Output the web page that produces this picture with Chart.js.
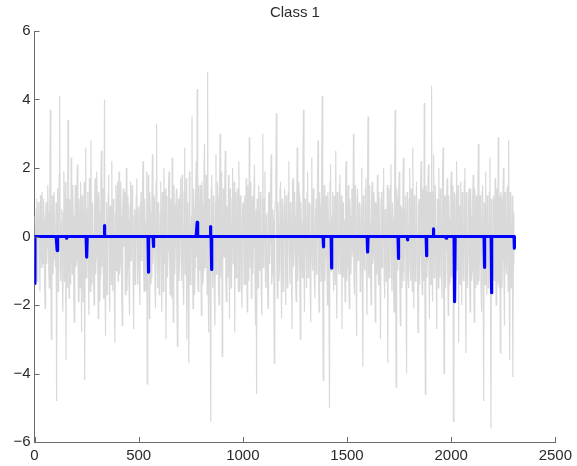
<!DOCTYPE html>
<html>
<head>
<meta charset="utf-8">
<script src="https://cdn.jsdelivr.net/npm/chart.js@4/dist/chart.umd.min.js"></script>
<style>
  html, body { margin: 0; padding: 0; background: #ffffff; }
  #wrap { width: 577px; height: 466px; }
</style>
</head>
<body>
<div id="wrap"><canvas id="c" width="577" height="466"></canvas></div>
<script>
// ---- data ----
const chartTitle = "Class 1";
const xTicks = [0, 500, 1000, 1500, 2000, 2500];
const yTicks = [-6, -4, -2, 0, 2, 4, 6];
const sampleCount = 2304;

// grey signal: estimated values every 5 samples (greyMain, from sample 1)
// and the estimated values half-way between them (greyMid)
const greyStep = 2.5;
const greyMain = [
  0.6, -1.2, 1.1, -0.4, 0.9, -1.6, 0.3, 1.3, -0.8, 0.5, -2.1, 1.0, -0.3, 0.7, -1.5, 3.7, -3.0, 1.2, -0.6, 0.4,
  -0.9, -4.8, 1.4, -0.2, 4.1, -1.3, 0.8, -2.2, 1.9, -0.5, -3.6, 1.1, 3.4, -1.8, 0.2, 2.3, -1.1, 0.6, -2.5, 1.5,
  -0.7, 2.1, -1.9, 0.4, 1.6, -2.8, 0.9, -0.3, -4.2, 2.6, -1.0, 1.3, -2.3, 0.5, 2.8, -1.4, 0.1, -2.0, 1.7, -0.6,
  1.2, -2.4, 0.7, -1.1, 2.5, -0.2, -1.8, 4.0, -2.9, 1.0, -0.5, 1.8, -2.2, 0.3, 2.2, -1.6, 0.8, -3.1, 1.5, -0.4,
  -1.3, 1.9, -0.8, 0.6, -2.6, 1.4, 0.2, -1.7, 2.0, -0.9, 0.5, -2.3, 1.6, -0.1, 1.1, -2.7, 0.8, -0.6, 1.7, -1.4,
  0.9, -2.0, 1.3, -0.5, 2.2, -1.6, 0.4, -0.9, -4.3, 1.8, -2.4, 0.7, -1.2, 2.4, -0.3, 1.0, -2.1, 3.3, -1.5, 0.6,
  -1.1, 1.6, -2.2, 0.3, 2.0, -0.8, -3.0, 1.2, -0.4, 1.9, -1.7, 0.5, 2.3, -2.5, 0.9, -0.2, 1.4, -3.2, 1.1, -0.7,
  1.7, -1.3, 0.6, -2.0, 2.6, -0.5, -3.0, 1.0, -3.7, 0.4, -1.2, 3.5, -2.1, 0.8, -0.9, 2.2, 4.3, -1.6, 0.2, 1.5,
  -2.3, 0.9, -1.0, 2.7, -0.4, 1.3, 4.8, -2.8, 0.5, -5.4, 1.8, -1.5, 0.7, -2.6, 2.4, -0.8, 1.1, -2.0, 3.0, -1.2,
  -3.5, 1.4, -0.6, 2.5, -1.9, 0.3, 1.8, -2.4, 0.8, -1.1, 2.0, -0.2, -2.8, 1.3, -0.7, 0.5, 2.2, -1.6, 0.9, -2.1,
  1.0, -1.4, 0.4, 1.7, -2.2, 0.6, 2.9, -0.9, -1.8, 1.2, -0.3, 2.1, -2.6, -4.6, 0.8, 1.5, -1.0, 0.2, -2.3, 3.0,
  -0.6, 1.9, -1.5, 0.7, -2.1, 1.3, -0.2, 2.4, -1.1, 0.5, -3.7, 1.0, 3.6, -1.8, 0.3, -0.9, 1.6, -2.4, 0.8, -0.4,
  1.4, -2.0, 0.5, -0.8, 2.2, -1.4, 0.9, -2.7, 1.7, -0.3, 0.6, -1.9, 2.6, -0.5, 1.2, -3.0, 0.4, -1.2, 3.7, -2.2,
  0.8, -1.5, 1.9, -0.7, 0.3, -2.5, 2.3, -1.0, 0.6, -1.8, 1.1, -0.4, 2.8, -2.2, 0.9, -1.3, 4.1, -4.2, 1.5, -0.6,
  1.2, -2.0, 0.4, -5.0, 2.1, -0.8, 1.3, -1.6, 0.7, 2.5, -2.4, 0.2, -1.1, 1.8, -0.3, -2.7, 1.0, 0.5, -1.9, 2.2,
  -0.9, 1.5, -2.1, 0.6, -0.4, 1.1, 3.0, -1.7, 0.8, -2.9, 1.4, -0.2, 0.9, -1.5, 2.0, -3.8, 0.5, -1.0, 1.7, -2.3,
  3.5, -1.2, 0.4, -2.0, 1.6, -0.6, 1.0, -2.5, 0.7, 1.8, -1.4, 0.2, -3.0, 1.3, -0.5, 2.0, -1.8, 0.6, -0.9, -3.7,
  1.4, -0.8, 2.1, -1.6, 0.5, -2.2, 3.7, -4.4, 1.1, -0.3, 1.9, -2.6, 0.8, -1.0, 2.3, -0.4, 1.2, -4.0, 0.6, -1.5,
  2.0, -1.3, 0.7, 2.6, -2.1, 0.4, -0.9, 1.6, -2.8, 1.1, -0.5, 2.2, -1.7, 0.8, 3.9, -4.6, 1.3, -0.7, 2.1, -2.4,
  0.9, 4.4, -1.9, 2.4, -0.6, 1.5, -2.7, 0.3, 2.0, -1.2, 0.7, -1.8, 2.6, -4.0, 1.2, -0.4, 1.7, -2.3, 0.5, -1.1,
  1.9, -0.7, -5.4, 1.3, -1.6, 2.2, -0.2, -3.1, 0.9, 1.6, -2.0, 0.4, -1.3, 2.0, -3.4, 0.8, -0.5, 1.4, -2.2, 0.6,
  -1.0, 1.8, -2.5, 0.5, 1.2, -1.4, 2.7, -0.6, 0.9, -2.2, 1.5, -4.8, 0.3, 1.9, -1.7, 0.7, -0.8, 2.3, -5.6, 1.0,
  -1.2, 0.6, 1.7, -2.0, 0.4, 2.9, -1.5, -3.4, 1.1, -0.7, 2.0, -2.6, 0.8, -1.1, 1.5, 2.8, -3.6, 0.5, -0.9, -4.1,
  0.7
];
const greyMid = [
  -0.5, 0.8, -1.3, 1.0, -0.2, 1.2, -0.9, -0.4, 1.1, -1.4, 0.6, -0.8, 1.5, -1.0, 0.9, -0.7, 0.3, -1.1, 1.3, -0.6,
  1.0, 0.5, -1.6, 1.8, -0.9, 0.4, -1.2, 0.7, -1.3, 1.6, 0.2, -1.5, -0.4, 1.1, -1.4, -0.3, 1.5, -1.7, 0.3, -0.9,
  1.4, -0.6, 1.1, -1.5, 0.3, 1.2, -1.9, 1.6, 0.5, -1.2, 0.8, -1.0, 1.7, -1.6, -0.5, 1.0, -1.3, 0.9, -1.1, 1.9,
  -0.8, 1.3, -1.9, 1.5, -0.9, 1.4, 0.6, -1.2, 0.4, -1.7, 1.2, -0.5, 0.9, -1.4, -0.6, 1.1, -1.8, 0.7, -1.0, 1.6,
  0.5, -1.1, 1.6, -1.5, 0.8, -0.3, 1.3, 0.4, -1.6, 1.2, -1.3, 0.9, -0.7, 1.5, -1.2, 0.6, -1.4, 1.2, -0.5, 0.8,
  -1.3, 1.0, -0.7, 1.5, -0.9, 1.1, -1.6, 1.9, -0.6, 0.7, 1.3, -1.4, 0.9, -0.8, 1.2, -1.5, 1.6, -0.4, 1.0, -1.7,
  0.7, -1.0, 1.3, -1.6, 0.5, 1.4, -0.8, -1.2, 1.6, -0.5, 1.1, -1.8, -0.6, 1.5, -1.1, 0.9, -1.7, 0.4, -1.3, 1.2,
  -0.4, 1.8, -1.5, 1.3, -1.1, 1.7, 0.3, -1.6, 1.9, -1.4, 0.6, -0.9, 1.4, -1.7, 1.2, -0.6, -1.3, 1.5, -1.0, -0.8,
  1.6, -1.4, 1.7, -0.9, 1.8, -1.7, -1.0, 1.1, -1.9, 1.4, -0.6, 1.2, -1.8, 1.0, -1.1, 1.6, -1.5, 1.3, -0.7, 1.9,
  -1.0, -0.5, 1.6, -1.3, 0.9, -1.2, 0.5, 1.4, -1.5, 1.1, -0.8, 1.6, -0.3, -1.2, 1.4, -1.6, 0.4, 1.2, -1.4, 0.7,
  0.3, 1.2, -1.4, -0.6, 1.5, -1.3, -0.4, 1.6, 0.5, -1.1, 1.3, -1.2, 0.8, 1.1, -1.5, -0.7, 1.3, -1.6, 1.1, -0.9,
  1.1, -1.3, 0.6, -1.5, 1.2, -0.8, 1.5, -1.4, 0.8, -1.2, 0.7, 1.7, -1.1, 1.0, -1.3, 1.4, -0.9, 1.1, -1.6, 0.9,
  -0.6, 1.2, -1.5, 1.3, -0.4, 1.0, -1.1, 1.5, -0.9, 1.3, -1.4, 0.7, -1.3, 1.6, -1.4, 1.0, -0.8, 1.8, -0.6, 1.1,
  -0.3, 1.3, -1.2, 1.0, -1.5, 0.9, -0.7, 1.4, -1.2, 0.8, -1.1, 1.6, -0.8, 1.3, -0.5, 1.6, -1.4, 0.9, -1.3, 1.0,
  -0.7, 1.3, -1.8, 1.6, -1.0, 0.6, -1.1, 1.2, -1.4, -0.6, 1.3, -0.9, 1.5, -1.1, 1.2, 0.8, -1.2, -0.8, 1.4, -1.3,
  0.6, -1.2, 1.1, -1.1, 1.4, -0.6, -1.3, 1.5, -1.0, 1.2, -0.7, 1.0, -1.6, 0.9, -1.3, 1.2, -0.9, 1.4, -1.0, 1.3,
  -1.1, 1.5, -1.3, 1.2, -0.8, 1.3, -1.4, 1.0, -1.1, -0.5, 1.3, -1.5, 1.1, -0.9, 1.4, -1.2, 0.8, -1.3, 1.5, 1.0,
  -1.2, 1.5, -0.9, 1.0, -1.4, 1.2, -1.5, 1.4, -1.0, 1.3, -1.1, 0.9, -1.5, 1.6, -1.3, 0.8, -1.6, 1.3, -1.2, 1.1,
  -0.8, 1.4, -1.6, -0.5, 1.2, -1.3, 1.6, -1.1, 0.9, -1.4, 1.5, -0.9, 1.4, -1.3, -0.8, 1.5, -1.2, 1.6, -1.0, 1.3,
  -1.4, -1.0, 1.3, -1.2, 1.5, -1.3, 1.1, -1.5, -0.7, 1.4, -1.2, 1.7, -0.6, 1.1, -1.5, 1.3, -1.0, 1.2, -1.4, 1.5,
  -1.2, 1.5, 0.8, -1.3, 1.2, -1.0, 1.5, 0.6, -1.4, -0.8, 1.3, -1.2, 1.6, -1.1, 1.3, -1.5, 1.0, -1.2, 1.4, -1.3,
  1.1, -1.2, 1.4, -1.5, -0.4, 1.6, -1.3, 1.2, -1.5, 1.3, -1.2, 1.0, -1.4, -0.6, 1.2, -1.5, 1.3, -1.4, 1.1, -1.3,
  1.2, -1.3, -0.6, 1.4, -1.4, -1.0, 1.2, 1.3, -1.5, 1.1, -1.2, 1.3, -0.9, 1.4, -1.6, -1.1, 1.3, -1.5, 1.2, -0.8
];

// blue sparse signal: non-zero samples only (all other samples are 0)
const spikeIndex = [1, 109, 155, 252, 337, 547, 570, 781, 845, 851, 1388, 1425, 1600, 1747, 1791, 1882, 1914, 1976, 2018, 2161, 2195, 2304];
const spikeValue = [-1.37, -0.41, -0.05, -0.6, 0.32, -1.04, -0.29, 0.41, 0.29, -0.96, -0.3, -0.92, -0.45, -0.64, -0.1, -0.56, 0.22, -0.05, -1.9, -0.9, -1.64, -0.34];

// ---- build the tables Chart.js needs ----
const greySeq = [];
greyMain.forEach((v, i) => {
  greySeq.push(v);
  if (i < greyMid.length && i < greyMain.length - 1) greySeq.push(greyMid[i]);
});
const greyPoints = greySeq.map((v, j) => ({ x: 1 + j * greyStep, y: v }));
const blueY = new Array(sampleCount + 1).fill(0);
spikeIndex.forEach((k, j) => { blueY[k] = spikeValue[j]; });
const bluePoints = [];
for (let k = 1; k <= sampleCount; k++) bluePoints.push({ x: k, y: blueY[k] });

const axisColor = '#6b6b6b';
const textColor = '#2b2b2b';
const fontFamily = '"Liberation Sans", Arial, Helvetica, sans-serif';

const inwardTicks = {
  id: 'inwardTicks',
  afterDraw(chart) {
    const ctx = chart.ctx;
    const xs = chart.scales.x, ys = chart.scales.y;
    const area = chart.chartArea;
    ctx.save();
    ctx.strokeStyle = axisColor;
    ctx.lineWidth = 1;
    ctx.beginPath();
    xTicks.forEach(v => {
      const px = Math.round(xs.getPixelForValue(v)) + 0.5;
      ctx.moveTo(px, area.bottom);
      ctx.lineTo(px, area.bottom - 5);
    });
    yTicks.forEach(v => {
      const py = Math.round(ys.getPixelForValue(v)) + 0.5;
      ctx.moveTo(area.left, py);
      ctx.lineTo(area.left + 5, py);
    });
    ctx.stroke();
    ctx.restore();
  }
};

new Chart(document.getElementById('c'), {
  type: 'line',
  data: {
    datasets: [
      {
        data: bluePoints,
        borderColor: '#0000ff',
        borderWidth: 3.2,
        pointRadius: 0,
        tension: 0,
        borderJoinStyle: 'round',
        fill: false
      },
      {
        data: greyPoints,
        borderColor: '#d9d9d9',
        borderWidth: 1.2,
        pointRadius: 0,
        tension: 0,
        fill: false
      }
    ]
  },
  options: {
    responsive: false,
    devicePixelRatio: 1,
    animation: false,
    events: [],
    layout: { padding: { left: 0, right: 20, top: 0, bottom: 0 } },
    plugins: {
      legend: { display: false },
      tooltip: { enabled: false },
      title: {
        display: true,
        fullSize: false,
        text: chartTitle,
        color: textColor,
        font: { family: fontFamily, size: 15, weight: 'normal' },
        padding: { top: 4, bottom: 9 }
      }
    },
    scales: {
      x: {
        type: 'linear',
        min: 0,
        max: 2500,
        afterBuildTicks: s => { s.ticks = xTicks.map(v => ({ value: v })); },
        afterFit: s => { s.height = 24; },
        grid: { display: true, drawOnChartArea: false, drawTicks: false, color: 'rgba(0,0,0,0)' },
        border: { display: true, color: axisColor, width: 1 },
        ticks: {
          autoSkip: false,
          maxRotation: 0,
          padding: 5,
          color: textColor,
          font: { family: fontFamily, size: 15 },
          callback: v => String(v)
        }
      },
      y: {
        type: 'linear',
        min: -6,
        max: 6,
        afterBuildTicks: s => { s.ticks = yTicks.map(v => ({ value: v })); },
        afterFit: s => { s.width = 34.5; },
        grid: { display: true, drawOnChartArea: false, drawTicks: false, color: 'rgba(0,0,0,0)' },
        border: { display: true, color: axisColor, width: 1 },
        ticks: {
          autoSkip: false,
          padding: 4,
          color: textColor,
          font: { family: fontFamily, size: 15 },
          callback: v => String(v).replace('-', '\u2212')
        }
      }
    }
  },
  plugins: [inwardTicks]
});
</script>
</body>
</html>
